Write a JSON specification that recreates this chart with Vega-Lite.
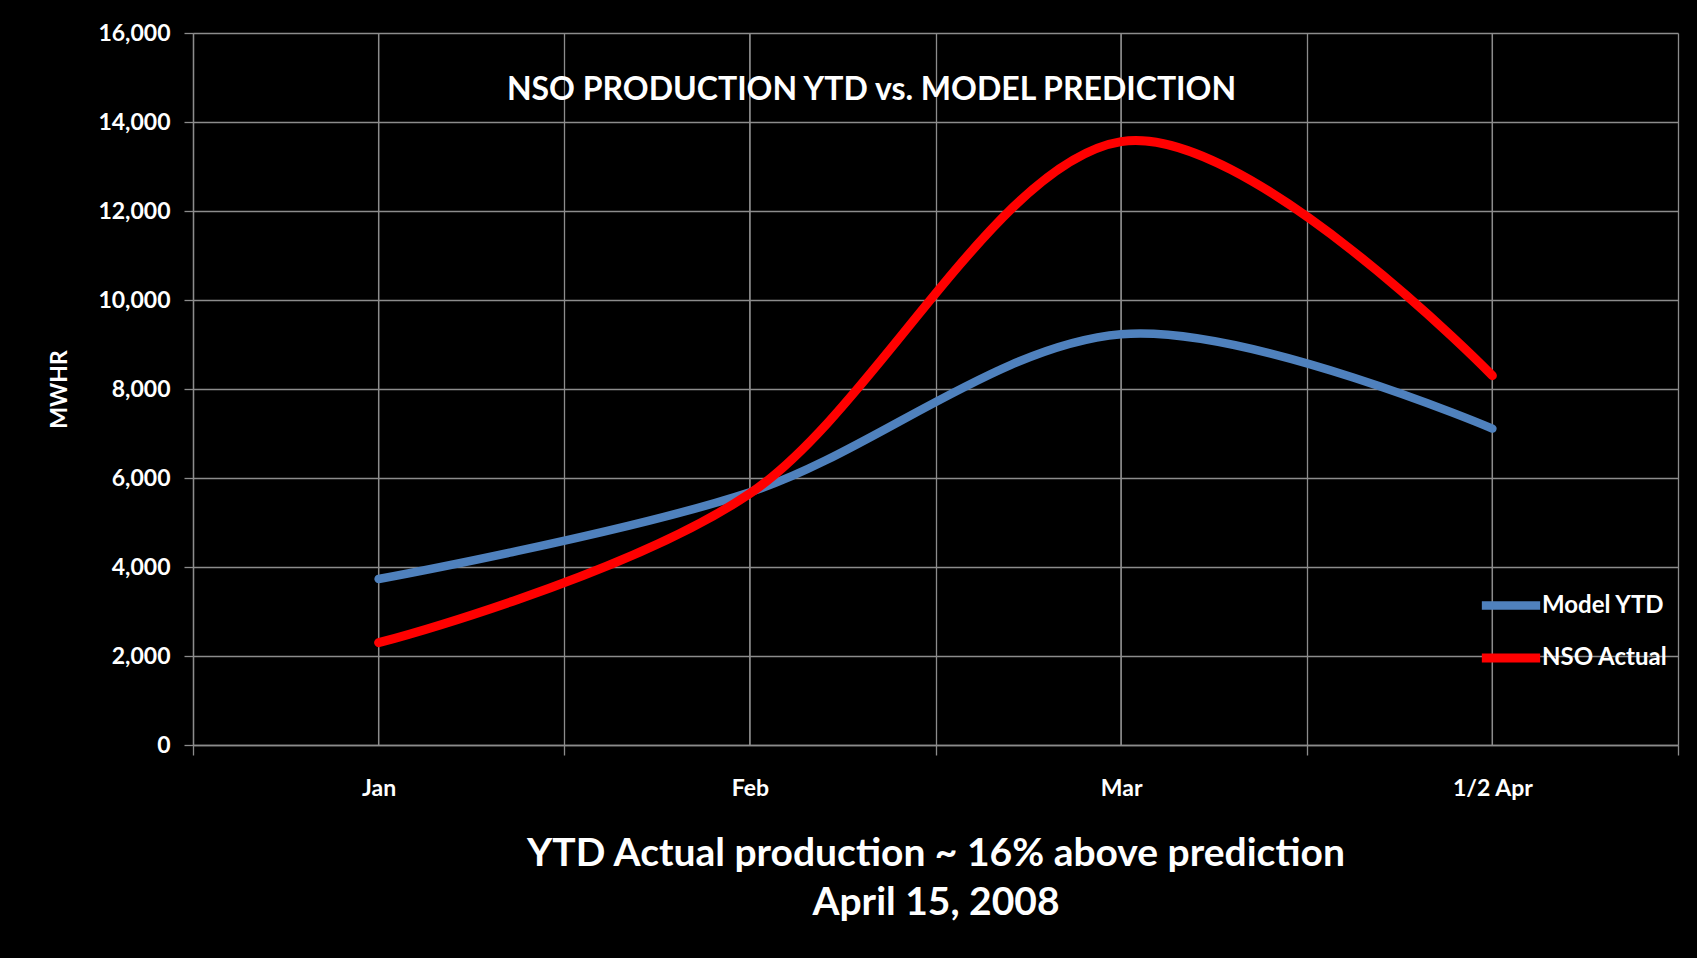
{
  "$schema": "https://vega.github.io/schema/vega-lite/v6.json",
  "width": 1485,
  "height": 712,
  "autosize": {"type": "none"},
  "padding": {"left": 193, "top": 33, "right": 19, "bottom": 213},
  "background": "#000000",
  "config": {
    "view": {"stroke": null},
    "font": "Lato",
    "axis": {"gridColor": "#8c8c8c", "gridWidth": 1.3, "gridOpacity": 1, "domainColor": "#8c8c8c", "domainWidth": 1.3, "tickColor": "#8c8c8c", "tickWidth": 1.3, "labelColor": "#ffffff", "titleColor": "#ffffff", "labelFont": "Lato", "titleFont": "Lato", "labelFontWeight": "bold", "titleFontWeight": "bold"}
  },
  "title": {
    "text": "NSO PRODUCTION YTD vs. MODEL PREDICTION",
    "anchor": "middle",
    "baseline": "middle",
    "offset": -100,
    "dx": -64,
    "color": "#ffffff",
    "font": "Lato",
    "fontSize": 32,
    "fontWeight": "bold"
  },
  "data": {
    "values": [
      {"month": "Jan", "series": "Model YTD", "mwhr": 3730},
      {"month": "Feb", "series": "Model YTD", "mwhr": 5680},
      {"month": "Mar", "series": "Model YTD", "mwhr": 9230},
      {"month": "1/2 Apr", "series": "Model YTD", "mwhr": 7110},
      {"month": "Jan", "series": "NSO Actual", "mwhr": 2300},
      {"month": "Feb", "series": "NSO Actual", "mwhr": 5650},
      {"month": "Mar", "series": "NSO Actual", "mwhr": 13560},
      {"month": "1/2 Apr", "series": "NSO Actual", "mwhr": 8300}
    ]
  },
  "layer": [
    {
      "mark": {"type": "rule", "color": "#8c8c8c", "strokeWidth": 1.3},
      "encoding": {
        "x": {"field": "month", "type": "nominal", "sort": ["Jan", "Feb", "Mar", "1/2 Apr"], "bandPosition": 0.5}
      }
    },
    {
      "mark": {"type": "line", "interpolate": "cardinal", "tension": 0, "strokeCap": "round", "strokeJoin": "round"},
      "encoding": {
        "x": {
          "field": "month",
          "type": "nominal",
          "sort": ["Jan", "Feb", "Mar", "1/2 Apr"],
          "bandPosition": 0.5,
          "scale": {"type": "band", "paddingInner": 0, "paddingOuter": 0},
          "axis": {
            "labelAngle": 0,
            "labelAlign": "center",
            "labelFontSize": 23,
            "labelPadding": 33,
            "tickSize": 10,
            "tickBand": "extent",
            "grid": true,
            "title": ["YTD Actual production ~ 16% above prediction", "April 15, 2008"],
            "titleFontSize": 39,
            "titleLineHeight": 49,
            "titlePadding": 34
          }
        },
        "y": {
          "field": "mwhr",
          "type": "quantitative",
          "scale": {"domain": [0, 16000], "nice": false},
          "axis": {
            "values": [0, 2000, 4000, 6000, 8000, 10000, 12000, 14000, 16000],
            "format": ",d",
            "labelFontSize": 23,
            "labelPadding": 14,
            "tickSize": 9,
            "title": "MWHR",
            "titleFontSize": 23,
            "titlePadding": 26
          }
        },
        "color": {
          "field": "series",
          "type": "nominal",
          "scale": {"domain": ["Model YTD", "NSO Actual"], "range": ["#4F81BD", "#FF0000"]},
          "legend": {
            "title": null,
            "orient": "none",
            "legendX": 1284,
            "legendY": 539,
            "symbolType": "stroke",
            "symbolSize": 3400,
            "symbolStrokeWidth": 5.5,
            "labelColor": "#ffffff",
            "labelFont": "Lato",
            "labelFontSize": 24,
            "labelFontWeight": "bold",
            "labelOffset": -3,
            "rowPadding": 1
          }
        },
        "strokeWidth": {
          "field": "series",
          "type": "nominal",
          "scale": {"domain": ["Model YTD", "NSO Actual"], "range": [8.5, 9]},
          "legend": null
        }
      }
    }
  ]
}
